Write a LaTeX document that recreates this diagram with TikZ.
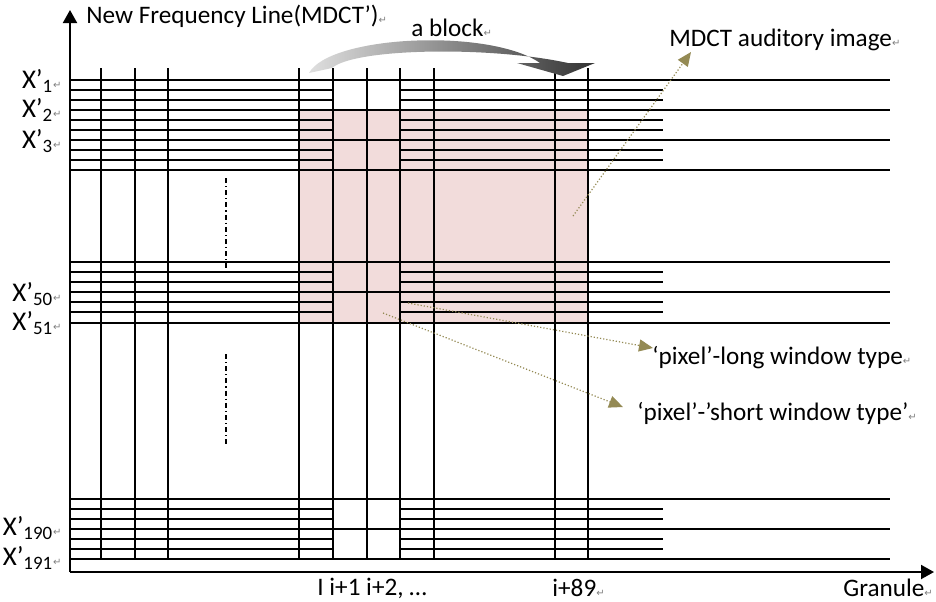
\documentclass[tikz,border=0pt]{standalone}
\usepackage{fontspec}
\setmainfont{Carlito}
\newfontfamily\symfont{DejaVu Sans}
\usetikzlibrary{arrows.meta}
\definecolor{blockpink}{HTML}{F2DCDB}
\definecolor{calloutolive}{HTML}{948A54}
\newcommand{\ret}{{\symfont\fontsize{5}{5}\selectfont\textcolor{gray}{↵}}}
\tikzset{
  axis/.style={line width=1pt, -{Triangle[length=6.5pt,width=7pt]}},
  gridline/.style={line width=0.6pt},
  dashdotline/.style={line width=0.6pt, dash pattern=on 2.5pt off 1.5pt on 0.6pt off 1.5pt},
  pointer/.style={calloutolive, densely dotted, line width=0.6pt, -{Triangle[length=7pt,width=6pt]}},
  txt/.style={inner sep=0pt, font=\fontsize{12.6}{14}\selectfont},
  rowtxt/.style={inner sep=0pt, font=\fontsize{13.5}{15}\selectfont}
}

\begin{document}
\begin{tikzpicture}[x=0.5pt, y=-0.5pt]
  \useasboundingbox (0,0) rectangle (936,601);
  \fill[blockpink] (299,110) rectangle (588,323);
  \foreach \y in {80,110,140,170,262,292,323,499,529,559}
    \draw[gridline] (70,\y) -- (890,\y);
  \foreach \y in {90,100,120,130,150,160,272,282,302,312,509,519,539,549} {
    \draw[gridline] (70,\y) -- (333,\y);
    \draw[gridline] (400,\y) -- (663,\y);
  }
  \foreach \x in {101,135,168,299,333,367,400,434,555,588}
    \draw[gridline] (\x,68) -- (\x,560);
  \draw[line width=1pt] (299,110) rectangle (588,323);
  \draw[dashdotline] (226,178) -- (226,270) (226,354) -- (226,447);

  \coordinate (origin) at (70,572);
  \coordinate (ytop) at (70,10);
  \coordinate (xend) at (934,572);
  \draw[axis] (origin) -- (ytop);
  \draw[axis] (origin) -- (xend);

  \shade[left color=gray!25, right color=black!80]
    (309,73) .. controls (330,35) and (490,28) .. (540,63) -- (517,63) -- (563,76)
    -- (595,63) -- (568,63) .. controls (490,46) and (355,48) .. (332,68) -- cycle;

  \node[txt, anchor=west] (ytitle) at (86,16) {New Frequency Line(MDCT’)\ret};
  \node[txt, anchor=west] (blocklbl) at (411,28) {a block\ret};
  \node[txt, anchor=west] (imglbl) at (669,40) {MDCT auditory image\ret};
  \node[txt, anchor=west] (longlbl) at (652,358) {‘pixel’-long window type\ret};
  \node[txt, anchor=west] (shortlbl) at (637,413) {‘pixel’-’short window type’\ret};
  \node[txt, anchor=west] (cols) at (317,588) {I i+1 i+2, …};
  \node[txt, anchor=west] (lastcol) at (552,588) {i+89\ret};
  \node[txt, anchor=west] (xtitle) at (843,588) {Granule\ret};

  \node[rowtxt, anchor=east] (x1) at (62,81) {X’\textsubscript{1}\ret};
  \node[rowtxt, anchor=east] (x2) at (62,110) {X’\textsubscript{2}\ret};
  \node[rowtxt, anchor=east] (x3) at (62,141) {X’\textsubscript{3}\ret};
  \node[rowtxt, anchor=east] (x50) at (62,294) {X’\textsubscript{50}\ret};
  \node[rowtxt, anchor=east] (x51) at (62,323) {X’\textsubscript{51}\ret};
  \node[rowtxt, anchor=east] (x190) at (62,528) {X’\textsubscript{190}\ret};
  \node[rowtxt, anchor=east] (x191) at (62,558) {X’\textsubscript{191}\ret};

  \coordinate (imgpt) at (573,216);
  \coordinate (longpt) at (408,303);
  \coordinate (shortpt) at (383,313);
  \draw[pointer] (imgpt) -- ([xshift=11pt,yshift=-6pt]imglbl.west);
  \draw[pointer] (longpt) -- ([xshift=0.5pt,yshift=5pt]longlbl.west);
  \draw[pointer] (shortpt) -- ([xshift=-7pt,yshift=3pt]shortlbl.west);
\end{tikzpicture}
\end{document}
